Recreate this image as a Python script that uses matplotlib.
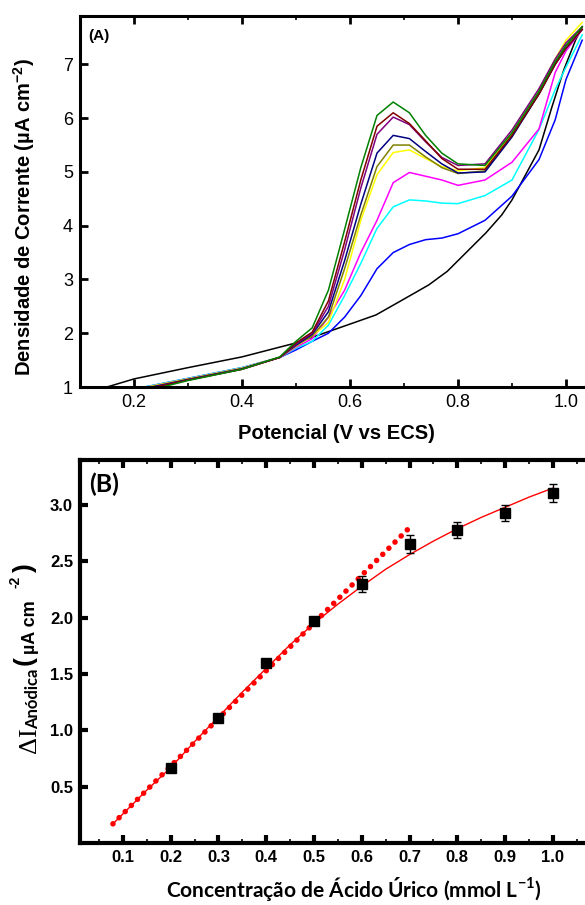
import numpy as np
import matplotlib
matplotlib.use("Agg")
import matplotlib.pyplot as plt
from matplotlib.ticker import MultipleLocator
from matplotlib.transforms import IdentityTransform

plt.rcParams["font.family"] = ["Liberation Sans", "DejaVu Sans"]
plt.rcParams["mathtext.fontset"] = "custom"
plt.rcParams["mathtext.rm"] = "Liberation Serif"
plt.rcParams["mathtext.bf"] = "Liberation Sans:bold"
plt.rcParams["mathtext.sf"] = "Lato:bold"

W, H = 585, 905

# ---- panel A: voltammograms ----
BLANK_E = [0.15, 0.20, 0.30, 0.40, 0.50, 0.543, 0.60, 0.648, 0.685, 0.72, 0.746,
           0.78, 0.807, 0.852, 0.881, 0.90, 0.95, 0.974, 0.996, 1.018, 1.03]
BLANK_J = [1.00, 1.15, 1.36, 1.56, 1.82, 1.97, 2.17, 2.34, 2.55, 2.75, 2.90,
           3.15, 3.42, 3.87, 4.20, 4.48, 5.41, 6.21, 6.90, 7.46, 7.70]

E = [0.22, 0.30, 0.40, 0.47, 0.50, 0.53, 0.56, 0.59, 0.62, 0.65, 0.68, 0.71,
     0.74, 0.77, 0.80, 0.85, 0.90, 0.95, 0.98, 1.00, 1.03]

J_BLUE = [1.00, 1.16, 1.36, 1.55, 1.69, 1.85, 2.00, 2.30, 2.70, 3.20, 3.50, 3.65,
          3.74, 3.77, 3.85, 4.10, 4.55, 5.23, 5.97, 6.72, 7.45]
J_CYAN = [1.00, 1.16, 1.36, 1.55, 1.72, 1.85, 2.15, 2.70, 3.30, 3.95, 4.35, 4.48,
          4.46, 4.42, 4.41, 4.56, 4.85, 5.79, 6.53, 6.95, 7.55]
J_MAGENTA = [0.99, 1.15, 1.35, 1.55, 1.74, 1.90, 2.30, 2.80, 3.50, 4.10, 4.80, 4.99,
             4.92, 4.85, 4.75, 4.85, 5.18, 5.80, 6.85, 7.25, 7.65]
J_YELLOW = [0.99, 1.15, 1.35, 1.55, 1.76, 1.95, 2.20, 3.00, 4.10, 4.95, 5.36, 5.41,
            5.25, 5.10, 5.02, 5.08, 5.72, 6.50, 7.10, 7.45, 7.78]
J_OLIVE = [0.98, 1.14, 1.34, 1.55, 1.77, 1.95, 2.30, 3.20, 4.20, 5.10, 5.50, 5.50,
           5.28, 5.08, 4.97, 5.02, 5.68, 6.45, 7.02, 7.35, 7.70]
J_NAVY = [0.97, 1.14, 1.34, 1.55, 1.78, 1.98, 2.40, 3.35, 4.40, 5.35, 5.68, 5.62,
          5.38, 5.15, 4.98, 5.00, 5.65, 6.45, 7.00, 7.30, 7.65]
J_PURPLE = [0.96, 1.13, 1.33, 1.55, 1.80, 2.00, 2.50, 3.55, 4.70, 5.70, 6.02, 5.88,
            5.56, 5.27, 5.12, 5.15, 5.78, 6.55, 7.10, 7.40, 7.70]
J_DARKRED = [0.95, 1.13, 1.33, 1.55, 1.82, 2.02, 2.60, 3.70, 4.85, 5.85, 6.10, 5.90,
             5.58, 5.25, 5.05, 5.05, 5.68, 6.45, 7.00, 7.30, 7.65]
J_GREEN = [0.92, 1.12, 1.33, 1.56, 1.85, 2.10, 2.80, 3.93, 5.08, 6.05, 6.30, 6.10,
           5.68, 5.35, 5.15, 5.12, 5.73, 6.50, 7.05, 7.35, 7.70]

CURVES = [
    (J_BLUE, "#0000ff"), (J_CYAN, "#00ffff"), (J_MAGENTA, "#ff00ff"),
    (J_YELLOW, "#ffff00"), (J_OLIVE, "#808000"), (J_NAVY, "#000080"),
    (J_PURPLE, "#800080"), (J_DARKRED, "#800000"), (J_GREEN, "#008000"),
]

# ---- panel B: calibration ----
CONC = [0.2, 0.3, 0.4, 0.5, 0.6, 0.7, 0.8, 0.9, 1.0]
DELTA_I = [0.67, 1.11, 1.60, 1.97, 2.30, 2.65, 2.78, 2.93, 3.11]
DELTA_ERR = [0.02, 0.02, 0.02, 0.03, 0.07, 0.08, 0.07, 0.07, 0.08]

FIT_X = [0.079, 0.15, 0.2, 0.25, 0.3, 0.35, 0.4, 0.45, 0.5, 0.55, 0.6, 0.65,
         0.7, 0.75, 0.8, 0.85, 0.9, 0.95, 1.0]
FIT_Y = [0.17, 0.47, 0.67, 0.90, 1.12, 1.34, 1.55, 1.76, 1.95, 2.12, 2.28, 2.43,
         2.56, 2.68, 2.79, 2.89, 2.98, 3.07, 3.15]

LIN_X = [0.079, 0.70]
LIN_Y = [0.17, 2.80]

# rotated y label of panel B, built from pieces (text, size, family, weight,
# baseline x, bottom y), positions in pixels from the top-left corner
YLABEL_B = [
    ("ΔI", 19, "Liberation Serif", "normal", 36, 753),
    ("Anódica", 12, "Lato", "bold", 38, 729),
    ("(", 19, "Liberation Sans", "bold", 32, 665),
    ("µA cm", 13, "Liberation Sans", "bold", 35, 654),
    ("-2", 10, "Liberation Sans", "bold", 20, 588),
    (")", 19, "Liberation Sans", "bold", 32, 572),
]


def style_axes(ax, lw):
    for side in ["left", "bottom", "top", "right"]:
        ax.spines[side].set_linewidth(lw)


def main():
    fig = plt.figure(figsize=(W / 100, H / 100), dpi=100)

    # panel A
    ax1 = fig.add_axes([80 / W, 1 - 387 / H, 513 / W, 371 / H])
    ax1.plot(BLANK_E, BLANK_J, color="black", lw=1.1)
    for j, c in CURVES:
        ax1.plot(E, j, color=c, lw=1.1)
    ax1.set_xlim(0.1, 1.05)
    ax1.set_ylim(1, 7.9)
    ax1.xaxis.set_minor_locator(MultipleLocator(0.1))
    ax1.set_xticks([0.2, 0.4, 0.6, 0.8, 1.0])
    ax1.set_xticklabels(["0.2", "0.4", "0.6", "0.8", "1.0"])
    ax1.set_yticks(range(1, 8))
    ax1.tick_params(which="both", direction="in", top=True, labelsize=13, pad=5)
    ax1.tick_params(which="major", length=6, width=2)
    ax1.tick_params(which="minor", length=3, width=1.2)
    style_axes(ax1, 2.2)
    ax1.set_xlabel("Potencial (V vs ECS)", fontsize=14.5, fontweight="bold")
    ax1.xaxis.set_label_coords(0.5, -0.1)
    ax1.set_ylabel(r"Densidade de Corrente (µA cm$^{\mathbf{-2}}$)",
                   fontsize=14.5, fontweight="bold")
    ax1.yaxis.set_label_coords(-0.084, 0.458)
    ax1.text(0.017, 0.935, "(A)", transform=ax1.transAxes, fontsize=11,
             fontweight="bold")

    # panel B
    ax2 = fig.add_axes([80 / W, 1 - 843 / H, 511 / W, 383 / H])
    ax2.plot(LIN_X, LIN_Y, color="red", lw=4, linestyle=(0, (0.01, 1.55)),
             dash_capstyle="round", zorder=2)
    ax2.plot(FIT_X, FIT_Y, color="red", lw=1, zorder=3)
    ax2.errorbar(CONC, DELTA_I, yerr=DELTA_ERR, fmt="s", color="black",
                 markersize=7, ecolor="black", elinewidth=1, capsize=3,
                 capthick=1, zorder=4)
    ax2.set_xlim(0.01, 1.08)
    ax2.set_ylim(0, 3.4)
    ax2.set_xticks(np.arange(1, 11) / 10)
    ax2.set_xticklabels([f"{v / 10:.1f}" for v in range(1, 11)])
    ax2.xaxis.set_minor_locator(MultipleLocator(0.05))
    ax2.set_yticks([0.5, 1.0, 1.5, 2.0, 2.5, 3.0])
    ax2.set_yticklabels(["0.5", "1.0", "1.5", "2.0", "2.5", "3.0"])
    ax2.tick_params(which="both", direction="in", top=True, pad=5)
    ax2.tick_params(which="major", length=6, width=3)
    ax2.tick_params(which="minor", length=3, width=1.2)
    for lab in ax2.get_xticklabels() + ax2.get_yticklabels():
        lab.set_fontweight("bold")
        lab.set_fontsize(12)
    style_axes(ax2, 3)
    ax2.set_xlabel(r"Concentração de Ácido Úrico (mmol L$^{\mathsf{-1}}$)",
                   fontsize=15, fontweight="bold", family=["Lato", "DejaVu Sans"])
    ax2.xaxis.set_label_coords(0.535, -0.083)
    for text, size, fam, weight, bx, by in YLABEL_B:
        fig.text(bx, H - by, text, rotation=90, rotation_mode="anchor",
                 ha="left", va="baseline", fontsize=size, fontweight=weight,
                 family=[fam, "DejaVu Sans"], transform=IdentityTransform())
    ax2.text(0.017, 0.915, "(B)", transform=ax2.transAxes, fontsize=18,
             fontweight="bold", family=["Lato", "DejaVu Sans"])

    fig.savefig("out.png", dpi=100)


if __name__ == "__main__":
    main()
